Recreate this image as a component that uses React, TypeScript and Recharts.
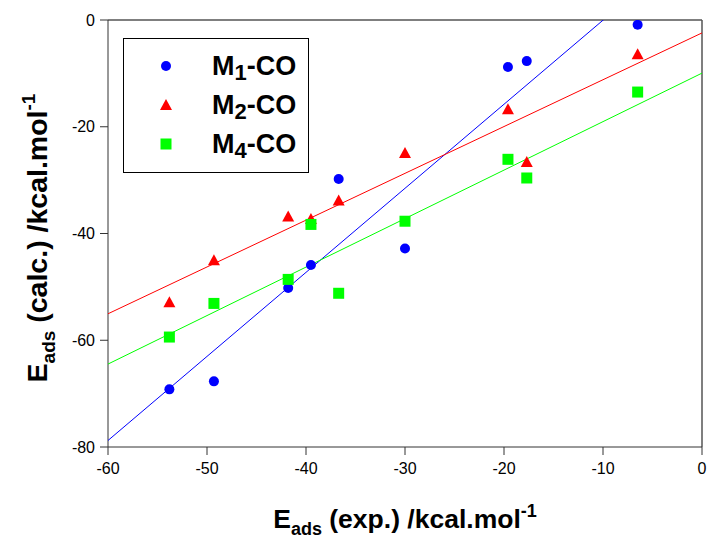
import { ScatterChart, Scatter, XAxis, YAxis, ReferenceLine } from 'recharts';

const expValues = [-53.8, -49.3, -41.8, -39.5, -36.7, -30.0, -19.6, -17.7, -6.5];
const m1Values = [-69.2, -67.7, -50.2, -45.9, -29.8, -42.8, -8.8, -7.7, -0.9];
const m2Values = [-52.9, -45.0, -36.8, -37.3, -33.8, -24.9, -16.7, -26.6, -6.4];
const m4Values = [-59.4, -53.1, -48.6, -38.3, -51.2, -37.7, -26.1, -29.6, -13.5];

const xTicks = [-60, -50, -40, -30, -20, -10, 0];
const yTicks = [-80, -60, -40, -20, 0];

const BLUE = '#0000FF';
const RED = '#FF0000';
const GREEN = '#00FF00';
const FONT = '"Liberation Sans", Arial, sans-serif';

const toPoints = (ys: number[]) => expValues.map((x, i) => ({ x, y: ys[i] }));

// least squares fit, drawn across the whole x range
const fitLine = (ys: number[]) => {
  const n = expValues.length;
  const mx = expValues.reduce((a, b) => a + b, 0) / n;
  const my = ys.reduce((a, b) => a + b, 0) / n;
  let sxy = 0;
  let sxx = 0;
  expValues.forEach((x, i) => {
    sxy += (x - mx) * (ys[i] - my);
    sxx += (x - mx) * (x - mx);
  });
  const slope = sxy / sxx;
  const b = my - slope * mx;
  return [xTicks[0], xTicks[xTicks.length - 1]].map(x => ({ x, y: slope * x + b }));
};

const Dot = ({ cx, cy }: any) => <circle cx={cx} cy={cy} r={5} fill={BLUE} />;
const Tri = ({ cx, cy }: any) => (
  <polygon points={`${cx},${cy - 6} ${cx - 6},${cy + 5} ${cx + 6},${cy + 5}`} fill={RED} />
);
const Sq = ({ cx, cy }: any) => <rect x={cx - 5.5} y={cy - 5.5} width={11} height={11} fill={GREEN} />;
const NoShape = () => null;

const XTitle = ({ viewBox }: any) => {
  const cx = viewBox.x + viewBox.width / 2;
  return (
    <text x={cx} y={528} textAnchor="middle" fontFamily={FONT} fontWeight="bold" fontSize={26.5} fill="#000">
      E<tspan fontSize={18} dy={7}>ads</tspan>
      <tspan dy={-7}> (exp.) /kcal.mol</tspan>
      <tspan fontSize={18} dy={-11}>-1</tspan>
    </text>
  );
};

const YTitle = () => (
  <text
    x={0}
    y={0}
    transform="translate(47, 238) rotate(-90)"
    textAnchor="middle"
    fontFamily={FONT}
    fontWeight="bold"
    fontSize={28.5}
    fill="#000"
  >
    E<tspan fontSize={19} dy={8}>ads</tspan>
    <tspan dy={-8}> (calc.) /kcal.mol</tspan>
    <tspan fontSize={19} dy={-12}>-1</tspan>
  </text>
);

const legendItems = [
  { sub: '1', shape: 'circle' },
  { sub: '2', shape: 'triangle' },
  { sub: '4', shape: 'square' },
];

const Legend = () => (
  <div
    style={{
      position: 'absolute',
      left: 123,
      top: 38,
      width: 184,
      height: 133,
      border: '1.5px solid #000',
      background: '#fff',
      fontFamily: FONT,
    }}
  >
    {legendItems.map((item, i) => (
      <div key={item.sub} style={{ position: 'absolute', top: 12 + i * 39, left: 0, height: 30, width: 184 }}>
        <svg width={30} height={30} style={{ position: 'absolute', left: 27, top: 0 }}>
          {item.shape === 'circle' && <circle cx={15} cy={15} r={5} fill={BLUE} />}
          {item.shape === 'triangle' && <polygon points="15,9 9,20 21,20" fill={RED} />}
          {item.shape === 'square' && <rect x={9.5} y={9.5} width={11} height={11} fill={GREEN} />}
        </svg>
        <div
          style={{
            position: 'absolute',
            left: 88,
            top: 0,
            fontSize: 27,
            fontWeight: 'bold',
            lineHeight: '30px',
            whiteSpace: 'nowrap',
          }}
        >
          M<span style={{ fontSize: 22, position: 'relative', top: 5 }}>{item.sub}</span>-CO
        </div>
      </div>
    ))}
  </div>
);

export default function App() {
  const tick = { fontSize: 16, fill: '#000', fontFamily: FONT };
  return (
    <div style={{ position: 'absolute', left: 0, top: 0, width: 707, height: 540, background: '#fff' }}>
      <ScatterChart width={707} height={540} margin={{ top: 20, right: 5, bottom: 0, left: 0 }}>
        <XAxis
          type="number"
          dataKey="x"
          domain={[-60, 0]}
          ticks={xTicks}
          allowDataOverflow
          tick={tick}
          tickSize={8}
          tickMargin={8}
          stroke="#333"
          height={93}
          label={<XTitle />}
        />
        <YAxis
          type="number"
          dataKey="y"
          domain={[-80, 0]}
          ticks={yTicks}
          allowDataOverflow
          tick={tick}
          tickSize={8}
          tickMargin={5}
          stroke="#333"
          width={108}
          label={<YTitle />}
        />
        <ReferenceLine y={0} stroke="#555" strokeWidth={1.5} />
        <ReferenceLine x={0} stroke="#555" strokeWidth={1.5} />
        <Scatter data={fitLine(m1Values)} line={{ stroke: BLUE, strokeWidth: 1 }} shape={<NoShape />} isAnimationActive={false} />
        <Scatter data={fitLine(m2Values)} line={{ stroke: RED, strokeWidth: 1 }} shape={<NoShape />} isAnimationActive={false} />
        <Scatter data={fitLine(m4Values)} line={{ stroke: GREEN, strokeWidth: 1 }} shape={<NoShape />} isAnimationActive={false} />
        <Scatter data={toPoints(m1Values)} shape={<Dot />} isAnimationActive={false} />
        <Scatter data={toPoints(m2Values)} shape={<Tri />} isAnimationActive={false} />
        <Scatter data={toPoints(m4Values)} shape={<Sq />} isAnimationActive={false} />
      </ScatterChart>
      <Legend />
    </div>
  );
}
